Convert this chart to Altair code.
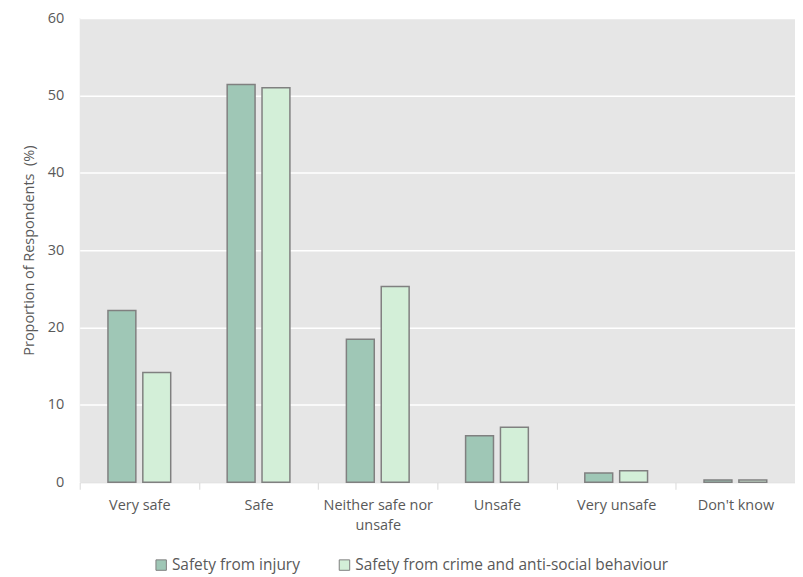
import altair as alt
import pandas as pd

categories = ["Very safe", "Safe", "Neither safe nor unsafe", "Unsafe", "Very unsafe", "Don't know"]
series = ["Safety from injury", "Safety from crime and anti-social behaviour"]
injury = [22.2, 51.4, 18.5, 6.0, 1.2, 0.3]
crime = [14.2, 51.0, 25.3, 7.1, 1.5, 0.3]
colors = ["#9fc7b6", "#d3efd8"]

rows = []
for c, a, b in zip(categories, injury, crime):
    rows.append({"cat": c, "series": series[0], "value": a})
    rows.append({"cat": c, "series": series[1], "value": b})
df = pd.DataFrame(rows)

font = "Open Sans"
grey = "#595959"

chart = alt.Chart(df).mark_bar(stroke="#808080", strokeWidth=1.5).encode(
    x=alt.X("cat:N", sort=categories, title=None,
            scale=alt.Scale(paddingInner=0, paddingOuter=0),
            axis=alt.Axis(labelAngle=0, tickBand="extent", ticks=True, tickSize=7,
                          tickColor="#d9d9d9", domainColor="#d9d9d9", domainWidth=1,
                          labelPadding=9, labelFontSize=14.5, labelColor=grey, labelFont=font,
                          labelLineHeight=20, labelBaseline="top",
                          labelExpr="datum.label == 'Neither safe nor unsafe' ? ['Neither safe nor', 'unsafe'] : datum.label")),
    xOffset=alt.XOffset("series:N", sort=series,
                        scale=alt.Scale(paddingInner=0.2, paddingOuter=0.81)),
    y=alt.Y("value:Q", title="Proportion of Respondents\u00a0\u00a0(%)",
            scale=alt.Scale(domain=[0, 60], nice=False),
            axis=alt.Axis(values=[0, 10, 20, 30, 40, 50, 60], grid=True, gridColor="white",
                          gridWidth=1.5, ticks=False, domain=False, labelPadding=16,
                          labelFontSize=14.5, labelColor=grey, labelFont=font,
                          titleFontSize=14.5, titleColor=grey, titleFont=font,
                          titleFontWeight="normal", titlePadding=11)),
    color=alt.Color("series:N", sort=series,
                    scale=alt.Scale(domain=series, range=colors),
                    legend=alt.Legend(title=None, orient="none", legendX=74, legendY=541,
                                      direction="horizontal", symbolType="square",
                                      symbolSize=110, symbolStrokeColor="#808080",
                                      symbolStrokeWidth=1, labelFontSize=15.5,
                                      labelColor=grey, labelFont=font, columnPadding=36,
                                      labelLimit=400, symbolOffset=0, labelOffset=3)),
).properties(
    width=718, height=466,
    autosize=alt.AutoSizeParams(type="none"),
    padding={"left": 72, "top": 9, "right": 0, "bottom": 94},
).configure(background="white").configure_view(fill="#e6e6e6", stroke=None)

chart.save("out.html", embed_options={"renderer": "svg", "actions": False})
